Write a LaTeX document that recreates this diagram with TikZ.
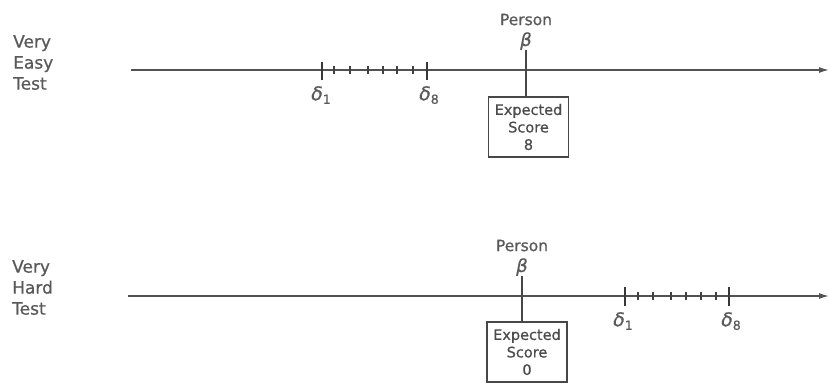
\documentclass[tikz,border=0pt]{standalone}
\usepackage{fontspec}
\setmainfont{DejaVu Sans}[FakeBold=0.7]
\usetikzlibrary{arrows.meta}
\newcommand\dsub[1]{{\itshape δ}\raisebox{-3.5pt}{\fontsize{12.5}{12.5}\selectfont #1}}
\tikzset{
  ink/.style={draw=black!72, line width=1.2pt},
  axisline/.style={draw=black!68, line width=1.4pt, -{Latex[length=10pt,width=6pt]}},
  bigtick/.style={draw=black!78, line width=1.4pt},
  smalltick/.style={draw=black!75, line width=1.8pt},
  testlbl/.style={text=black!65, inner sep=0pt, anchor=north west, align=left,
                  font=\fontsize{17}{21}\selectfont},
  personlbl/.style={text=black!65, inner sep=0pt, anchor=south, align=center,
                  font=\fontsize{15.5}{21}\selectfont},
  scorebox/.style={draw=black!72, line width=1.2pt, text=black!70, inner sep=0pt,
                  minimum width=80pt, minimum height=60pt, align=center,
                  font=\fontsize{14.5}{17.5}\selectfont},
  dlbl/.style={text=black!65, inner sep=0pt, anchor=north, font=\fontsize{19}{19}\selectfont}
}
\begin{document}
\begin{tikzpicture}[x=1pt,y=-1pt]
\useasboundingbox (0,0) rectangle (830,383);
% ---------- very easy test ----------
\node[testlbl] (easy) at (13,35) {Very\\Easy\\Test};
\coordinate (e0) at (131,70);
\coordinate (e1) at (829,70);
\draw[axisline] (e0) -- (e1);
\foreach \x in {334,350,368,383,397,413} \draw[smalltick] (\x,66) -- (\x,74);
\draw[bigtick] (322,62) -- (322,80);
\draw[bigtick] (427,62) -- (427,80);
\node[dlbl] (ed1) at (321,86) {\dsub{1}};
\node[dlbl] (ed8) at (429,86) {\dsub{8}};
\node[personlbl] (ep) at (526,50) {Person\\{\fontsize{18}{18}\selectfont\itshape β}};
\node[scorebox] (eb) at (528.5,127) {Expected\\Score\\8};
\draw[ink] (ep.south) -- (ep.south |- eb.north);
% ---------- very hard test ----------
\node[testlbl] (hard) at (12,260) {Very\\Hard\\Test};
\coordinate (h0) at (128,296);
\coordinate (h1) at (829,296);
\draw[axisline] (h0) -- (h1);
\foreach \x in {638,653,671,686,701,716} \draw[smalltick] (\x,292) -- (\x,300);
\draw[bigtick] (625,287) -- (625,306);
\draw[bigtick] (729,287) -- (729,306);
\node[dlbl] (hd1) at (623,312) {\dsub{1}};
\node[dlbl] (hd8) at (731,312) {\dsub{8}};
\node[personlbl] (hp) at (522,276) {Person\\{\fontsize{18}{18}\selectfont\itshape β}};
\node[scorebox] (hb) at (527,352) {Expected\\Score\\0};
\draw[ink] (hp.south) -- (hp.south |- hb.north);
\end{tikzpicture}
\end{document}
